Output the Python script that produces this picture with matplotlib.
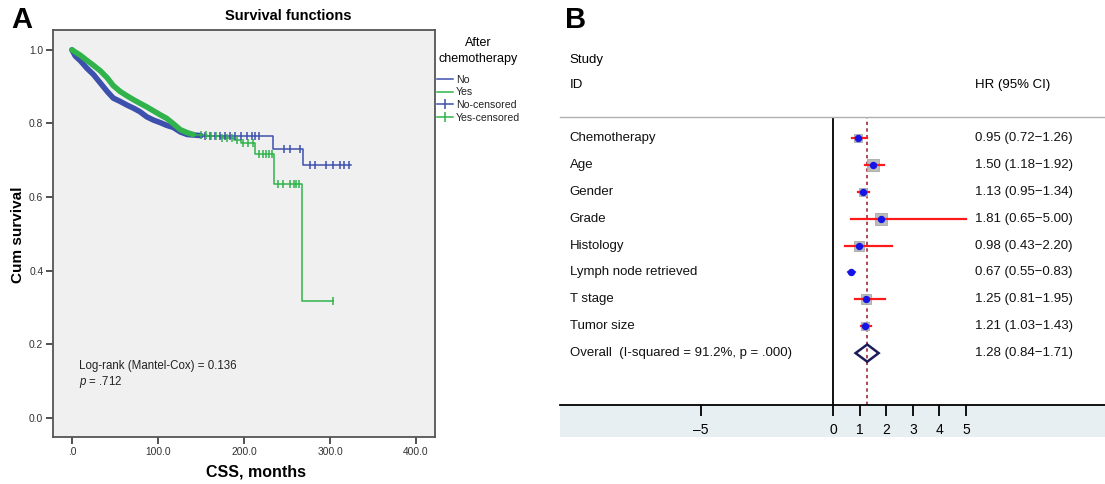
import numpy as np
import matplotlib
matplotlib.use("Agg")
import matplotlib.pyplot as plt
from matplotlib.lines import Line2D
from matplotlib.patches import Rectangle, Polygon

plt.rcParams['font.family'] = ['Liberation Sans', 'DejaVu Sans']
plt.rcParams['mathtext.fontset'] = 'custom'
plt.rcParams['mathtext.it'] = 'Liberation Sans:italic'
plt.rcParams['mathtext.rm'] = 'Liberation Sans'

# ---------------- Panel A data (Kaplan-Meier) ----------------
no_time = [0, 4, 10, 17, 25, 33, 41, 48, 56, 64, 72, 79, 87, 95, 103, 110, 118, 126, 134, 150, 234, 268]
no_surv = [1.0, 0.983, 0.970, 0.951, 0.933, 0.910, 0.887, 0.869, 0.860, 0.850, 0.841, 0.832, 0.818,
           0.809, 0.802, 0.795, 0.789, 0.777, 0.770, 0.767, 0.731, 0.688]
no_end = 324
no_censor = [155, 160, 166, 172, 178, 184, 190, 196, 203, 209, 213, 217, 246, 254, 265.5,
             277, 283, 295, 304, 312, 316, 322]

yes_time = [0, 10, 17, 25, 33, 41, 48, 56, 64, 72, 79, 87, 95, 103, 110, 118, 126, 134, 141, 157,
            172, 188, 196, 213, 234.5, 267]
yes_surv = [1.0, 0.985, 0.972, 0.958, 0.943, 0.924, 0.903, 0.887, 0.875, 0.864, 0.855, 0.845, 0.834,
            0.823, 0.814, 0.799, 0.783, 0.775, 0.770, 0.766, 0.761, 0.756, 0.747, 0.716, 0.635, 0.318]
yes_end = 303
yes_censor = [150, 156, 162, 168, 174, 180, 186, 192, 199, 205, 211, 217, 222, 226, 229, 232,
              239, 245, 254, 258, 261, 264, 303]

xticks_a = [0, 100, 200, 300, 400]
xticklabels_a = [".0", "100.0", "200.0", "300.0", "400.0"]
yticks_a = [0.0, 0.2, 0.4, 0.6, 0.8, 1.0]
yticklabels_a = ["0.0", "0.2", "0.4", "0.6", "0.8", "1.0"]

# ---------------- Panel B data (forest plot) ----------------
studies = ["Chemotherapy", "Age", "Gender", "Grade", "Histology", "Lymph node retrieved",
           "T stage", "Tumor size"]
hr = [0.95, 1.50, 1.13, 1.81, 0.98, 0.67, 1.25, 1.21]
ci_lo = [0.72, 1.18, 0.95, 0.65, 0.43, 0.55, 0.81, 1.03]
ci_hi = [1.26, 1.92, 1.34, 5.00, 2.20, 0.83, 1.95, 1.43]
box_size = [6.0, 8.0, 6.0, 8.0, 6.5, 0.0, 7.5, 6.0]
overall_label = "Overall  (I-squared = 91.2%, p = .000)"
overall_hr, overall_lo, overall_hi = 1.28, 0.84, 1.71
xticks_b = [-5, 0, 1, 2, 3, 4, 5]
xticklabels_b = ["\u20135", "0", "1", "2", "3", "4", "5"]

W, H = 1105, 484
fig = plt.figure(figsize=(W / 100, H / 100), dpi=100)


def fx(px):
    return px / W


def fy(py):
    return 1 - py / H


# ================= Panel A =================
ax = fig.add_axes([fx(53), fy(437), fx(435) - fx(53), fy(30) - fy(437)])
ax.set_facecolor('#f0f0f0')
blue = '#3d50ad'
green = '#2fb34a'


def step_value(times, survs, t):
    i = np.searchsorted(np.asarray(times), t, side='right') - 1
    return np.asarray(survs)[i]


split_t = 150
for times, survs, end, cens, col in [(no_time, no_surv, no_end, no_censor, blue),
                                     (yes_time, yes_surv, yes_end, yes_censor, green)]:
    n_early = sum(1 for x in times if x <= split_t)
    early_t = list(times[:n_early])
    early_s = list(survs[:n_early])
    late_t = [early_t[-1]] + list(times[n_early:]) + [end]
    late_s = [early_s[-1]] + list(survs[n_early:]) + [survs[-1]]
    ax.plot(late_t, late_s, drawstyle='steps-post', color=col, lw=1.1, zorder=3)
    ax.plot(early_t, early_s, color=col, lw=4.0, solid_capstyle='round',
            solid_joinstyle='round', zorder=3)
    cv = [step_value(times, survs, c) for c in cens]
    ax.plot(cens, cv, ls='none', marker='|', ms=6, mew=1.1, color=col, zorder=4)

ax.set_xlim(-22, 422)
ax.set_ylim(-0.052, 1.054)
ax.set_xticks(xticks_a)
ax.set_xticklabels(xticklabels_a)
ax.set_yticks(yticks_a)
ax.set_yticklabels(yticklabels_a)
ax.tick_params(labelsize=7.4, colors='#333333', length=5, width=1.2, pad=2)
for sp in ax.spines.values():
    sp.set_color('#555555')
    sp.set_linewidth(1.3)

ax.text(8, 0.141, "Log-rank (Mantel-Cox) = 0.136", fontsize=8.3, color='#222222', va='center')
ax.text(8, 0.098, "$p$ = .712", fontsize=8.3, color='#222222', va='center')

fig.text(fx(288), fy(16), "Survival functions", fontsize=10.5, fontweight='bold',
         ha='center', va='center')
fig.text(fx(22), fy(20), "A", fontsize=21, fontweight='bold', ha='center', va='center')
fig.text(fx(18), fy(235), "Cum survival", fontsize=11, fontweight='bold', rotation=90,
         ha='center', va='center')
fig.text(fx(256), fy(472), "CSS, months", fontsize=11.5, fontweight='bold',
         ha='center', va='center')

handles = [Line2D([], [], color=blue, lw=1.1),
           Line2D([], [], color=green, lw=1.1),
           Line2D([], [], color=blue, lw=1.1, marker='|', ms=7, mew=1.1),
           Line2D([], [], color=green, lw=1.1, marker='|', ms=7, mew=1.1)]
leg = ax.legend(handles, ["No", "Yes", "No-censored", "Yes-censored"],
                title="After\nchemotherapy", title_fontsize=9, fontsize=7.6,
                loc='upper left', bbox_to_anchor=(fx(437), fy(37)),
                bbox_transform=fig.transFigure, frameon=False, borderpad=0,
                handlelength=1.5, handletextpad=0.3, labelspacing=0.25, borderaxespad=0)
leg.get_title().set_multialignment('center')
leg.get_title().set_linespacing(1.45)
leg._legend_box.sep = 7
for t in leg.get_texts():
    t.set_color('#222222')

# ================= Panel B =================
fig.patches.append(Rectangle((fx(560), fy(437)), 1 - fx(560), fy(405) - fy(437),
                             transform=fig.transFigure, facecolor='#e8eff2',
                             edgecolor='none', zorder=-5))

ax2 = fig.add_axes([fx(560), fy(405), 1 - fx(560), fy(117) - fy(405)])
ax2.set_zorder(2)
ax2.set_xlim(-10.31, 10.25)
ax2.set_ylim(10.93, 0.22)
ax2.set_facecolor('none')
for k in ['left', 'right']:
    ax2.spines[k].set_visible(False)
ax2.spines['top'].set_color('#b0b0b0')
ax2.spines['top'].set_linewidth(1.0)
ax2.spines['bottom'].set_color('black')
ax2.spines['bottom'].set_linewidth(1.3)
ax2.set_yticks([])
ax2.set_xticks(xticks_b)
ax2.set_xticklabels(xticklabels_b)
ax2.tick_params(axis='x', direction='out', length=8, width=1.3, labelsize=10, pad=5,
                colors='black')

ax2.axvline(0, color='black', lw=1.3, zorder=2)
ax2.axvline(overall_hr, color='#a0283c', lw=1.2, ls=(0, (2, 2)), zorder=2)

ys = np.arange(1, len(studies) + 1)
for yi, h, lo, hi, bs in zip(ys, hr, ci_lo, ci_hi, box_size):
    if bs > 0:
        ax2.plot(h, yi, marker='s', ms=bs, color='#bcbcbc', mec='#a8a8a8', mew=0.6, zorder=3)
    ax2.plot([lo, hi], [yi, yi], color='#ff1a1a', lw=1.6, zorder=4)
    ax2.plot(h, yi, marker='o', ms=4.3, color='#1414e6', mec='#1414e6', zorder=5)

yo = len(studies) + 1
dia = Polygon([[overall_lo, yo], [overall_hr, yo - 0.32], [overall_hi, yo], [overall_hr, yo + 0.32]],
              closed=True, fill=False, edgecolor='#1c1c5a', lw=1.8, zorder=5)
ax2.add_patch(dia)

label_x = -9.94
hr_x = 5.35
for yi, name, h, lo, hi in zip(ys, studies, hr, ci_lo, ci_hi):
    ax2.text(label_x, yi, name, fontsize=9.5, va='center', ha='left', color='#111111')
    ax2.text(hr_x, yi, f"{h:.2f} ({lo:.2f}\u2212{hi:.2f})", fontsize=9.5, va='center',
             ha='left', color='#111111')
ax2.text(label_x, yo, overall_label, fontsize=9.5, va='center', ha='left', color='#111111')
ax2.text(hr_x, yo, f"{overall_hr:.2f} ({overall_lo:.2f}\u2212{overall_hi:.2f})", fontsize=9.5,
         va='center', ha='left', color='#111111')

ax2.text(label_x, -1.90, "Study", fontsize=9.5, va='center', ha='left', clip_on=False)
ax2.text(label_x, -0.97, "ID", fontsize=9.5, va='center', ha='left', clip_on=False)
ax2.text(hr_x, -0.97, "HR (95% CI)", fontsize=9.5, va='center', ha='left', clip_on=False)

fig.text(fx(576), fy(20), "B", fontsize=21, fontweight='bold', ha='center', va='center')

fig.savefig("out.png", dpi=100)
